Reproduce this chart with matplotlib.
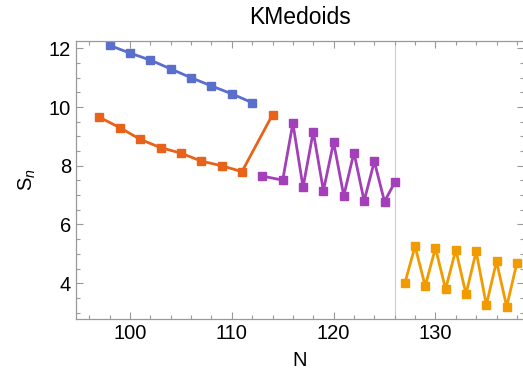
import numpy as np
import matplotlib.pyplot as plt
from matplotlib.ticker import MultipleLocator

plt.rcParams['font.family'] = ['Liberation Sans', 'DejaVu Sans']
plt.rcParams['mathtext.fontset'] = 'custom'
plt.rcParams['mathtext.rm'] = 'Liberation Sans'
plt.rcParams['mathtext.it'] = 'Liberation Sans:italic'

# datos leídos da gráfica
n_azul = [98, 100, 102, 104, 106, 108, 110, 112]
s_azul = [12.1, 11.84, 11.6, 11.3, 11.0, 10.72, 10.45, 10.15]

n_laranxa = [97, 99, 101, 103, 105, 107, 109, 111, 114]
s_laranxa = [9.65, 9.3, 8.9, 8.62, 8.43, 8.16, 8.0, 7.8, 9.74]

n_morado = [113, 115, 116, 117, 118, 119, 120, 121, 122, 123, 124, 125, 126]
s_morado = [7.65, 7.51, 9.45, 7.27, 9.16, 7.15, 8.8, 6.98, 8.45, 6.8, 8.15, 6.78, 7.43]

n_amarelo = [127, 128, 129, 130, 131, 132, 133, 134, 135, 136, 137, 138]
s_amarelo = [4.0, 5.26, 3.9, 5.2, 3.8, 5.14, 3.63, 5.08, 3.26, 4.74, 3.2, 4.69]

series = [
    (n_azul, s_azul, '#5a6fcc'),
    (n_laranxa, s_laranxa, '#e8621a'),
    (n_morado, s_morado, '#a33fb8'),
    (n_amarelo, s_amarelo, '#f29b00'),
]

fig = plt.figure(figsize=(5.23, 3.84), dpi=100)
ax = fig.add_axes([76/523, 65/384, 448/523, 278/384])

ax.axvline(126, color='#cccccc', lw=0.8, zorder=0)

for n, s, cor in series:
    ax.plot(n, s, '-', color=cor, lw=2.0, marker='s', markersize=6)

ax.set_xlim(94.7, 138.7)
ax.set_ylim(2.78, 12.25)
ax.xaxis.set_major_locator(MultipleLocator(10))
ax.xaxis.set_minor_locator(MultipleLocator(2))
ax.yaxis.set_major_locator(MultipleLocator(2))
ax.yaxis.set_minor_locator(MultipleLocator(0.5))
ax.tick_params(which='both', direction='in', top=True, right=True,
               color='#999999', labelsize=14.5, width=0.8)
ax.tick_params(which='major', length=5)
ax.tick_params(which='minor', length=3)
for sp in ax.spines.values():
    sp.set_color('#999999')
    sp.set_linewidth(0.9)

ax.set_xlabel('N', fontsize=14.5, labelpad=6)
ax.set_ylabel('S$_n$', fontsize=14.5, labelpad=8)
ax.set_title('KMedoids', fontsize=16.5, pad=12)

fig.savefig('out.png', dpi=100)
